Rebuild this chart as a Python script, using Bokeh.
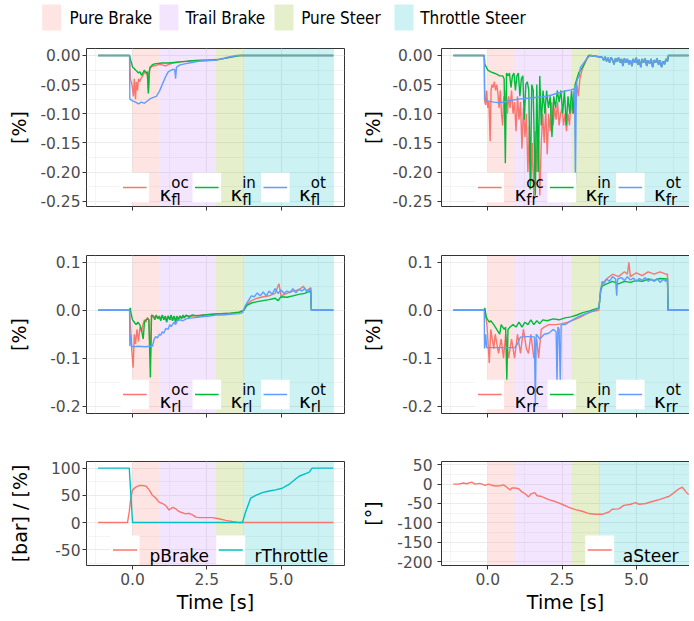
from bokeh.plotting import figure
from bokeh.models import Range1d, FixedTicker, PrintfTickFormatter, Label, LinearAxis, ColumnDataSource
from bokeh.layouts import column, row
from bokeh.embed import file_html
from bokeh.resources import INLINE

# ---------------- data ----------------
phase_names = ["Pure Brake", "Trail Brake", "Pure Steer", "Throttle Steer"]
phase_start = [0.0, 0.9, 2.81, 3.76]
phase_end = [0.9, 2.81, 3.76, 6.78]
phase_colors = ["#F8766D", "#C77CFF", "#7CAE00", "#00BFC4"]

kappa_colors = ["#F8766D", "#00BA38", "#619CFF"]
kappa_sups = ["oc", "in", "ot"]

x_ticks = [0.0, 2.5, 5.0]
x_minor = [-1.25, 1.25, 3.75, 6.25]

y1_ticks = [0.0, -0.05, -0.10, -0.15, -0.20, -0.25]
y1_minor = [-0.025, -0.075, -0.125, -0.175, -0.225]
y2_ticks = [0.1, 0.0, -0.1, -0.2]
y2_minor = [0.05, -0.05, -0.15]
y3l_ticks = [100, 50, 0, -50]
y3l_minor = [75, 25, -25, -75]
y3r_ticks = [50, 0, -50, -100, -150, -200]
y3r_minor = [25, -25, -75, -125, -175]

# front left slip (t [s], value)
fl_oc = [(-1.16, 0), (-0.1, 0), (-0.07, -0.04), (-0.02, -0.05), (0.03, -0.07), (0.06, -0.04), (0.1, -0.075),
         (0.13, -0.045), (0.17, -0.06), (0.2, -0.04), (0.24, -0.045), (0.28, -0.04), (0.34, -0.035), (0.4, -0.03),
         (0.45, -0.028), (0.5, -0.035), (0.54, -0.06), (0.58, -0.02), (0.62, -0.02), (0.7, -0.018), (0.8, -0.017),
         (0.9, -0.015), (1.0, -0.016), (1.12, -0.018), (1.23, -0.015), (1.35, -0.013), (1.46, -0.012), (1.6, -0.011),
         (1.8, -0.01), (2.0, -0.009), (2.5, -0.008), (2.8, -0.007), (3.1, -0.005), (3.5, -0.001), (3.6, 0), (6.76, 0)]
fl_in = [(-1.16, 0), (-0.1, 0), (-0.08, -0.005), (-0.04, -0.012), (0.0, -0.02), (0.05, -0.022), (0.1, -0.025),
         (0.15, -0.027), (0.2, -0.03), (0.25, -0.028), (0.3, -0.034), (0.35, -0.03), (0.4, -0.025), (0.45, -0.03),
         (0.5, -0.028), (0.53, -0.065), (0.56, -0.028), (0.6, -0.02), (0.65, -0.017), (0.7, -0.015), (0.8, -0.014),
         (1.0, -0.013), (1.2, -0.013), (1.4, -0.012), (1.6, -0.011), (1.8, -0.01), (2.0, -0.009), (2.4, -0.008),
         (2.8, -0.008), (3.1, -0.005), (3.5, -0.001), (3.6, 0), (6.76, 0)]
fl_ot = [(-1.16, 0), (-0.1, 0), (-0.09, -0.075), (0.0, -0.078), (0.1, -0.08), (0.2, -0.083), (0.3, -0.08),
         (0.4, -0.082), (0.5, -0.078), (0.6, -0.074), (0.7, -0.072), (0.8, -0.07), (0.9, -0.062), (1.0, -0.05),
         (1.1, -0.038), (1.2, -0.028), (1.35, -0.024), (1.42, -0.024), (1.45, -0.04), (1.48, -0.02), (1.6, -0.016),
         (1.8, -0.014), (2.0, -0.012), (2.2, -0.01), (2.5, -0.009), (2.8, -0.008), (3.0, -0.006), (3.2, -0.003),
         (3.5, 0), (6.76, 0)]

# front right slip
fr_oc_head = [(-1.16, 0), (-0.12, 0), (-0.1, -0.08), (-0.07, -0.085), (-0.04, -0.06), (0.0, -0.09), (0.04, -0.08),
              (0.08, -0.147), (0.11, -0.06), (0.14, -0.05), (0.18, -0.055), (0.22, -0.045), (0.26, -0.06),
              (0.3, -0.05), (0.34, -0.065), (0.38, -0.09), (0.42, -0.06), (0.46, -0.1), (0.5, -0.12), (0.54, -0.07),
              (0.58, -0.09), (0.62, -0.06), (0.66, -0.1), (0.7, -0.07), (0.75, -0.09), (0.8, -0.06), (0.85, -0.1),
              (0.9, -0.08), (0.95, -0.13), (1.0, -0.07), (1.05, -0.11), (1.1, -0.08), (1.15, -0.16), (1.2, -0.09),
              (1.25, -0.14), (1.3, -0.1), (1.35, -0.2), (1.4, -0.12), (1.45, -0.22), (1.5, -0.15), (1.55, -0.245),
              (1.6, -0.13), (1.65, -0.2), (1.7, -0.12), (1.75, -0.24), (1.8, -0.15), (1.85, -0.1), (1.9, -0.15),
              (1.95, -0.09), (2.0, -0.17), (2.05, -0.1), (2.1, -0.13), (2.15, -0.08), (2.2, -0.12), (2.25, -0.09),
              (2.3, -0.11), (2.35, -0.08), (2.4, -0.12), (2.45, -0.1), (2.5, -0.09), (2.55, -0.12), (2.6, -0.1),
              (2.65, -0.13), (2.7, -0.1), (2.75, -0.12), (2.8, -0.08), (2.85, -0.1), (2.9, -0.06), (2.95, -0.09),
              (3.0, -0.05), (3.05, -0.07), (3.1, -0.04), (3.15, -0.03), (3.2, -0.02), (3.3, -0.01), (3.4, 0.0),
              (3.46, 0.0)]
fr_in_head = [(-1.16, 0), (-0.12, 0), (-0.1, -0.015), (-0.05, -0.02), (0.0, -0.025), (0.1, -0.028), (0.2, -0.03),
              (0.3, -0.032), (0.4, -0.035), (0.5, -0.035), (0.55, -0.04), (0.59, -0.185), (0.63, -0.03),
              (0.68, -0.035), (0.73, -0.03), (0.78, -0.055), (0.83, -0.035), (0.88, -0.03), (0.93, -0.06),
              (0.98, -0.035), (1.03, -0.03), (1.08, -0.07), (1.13, -0.04), (1.18, -0.035), (1.23, -0.11),
              (1.28, -0.05), (1.33, -0.045), (1.38, -0.06), (1.43, -0.23), (1.48, -0.05), (1.53, -0.06), (1.6, -0.24),
              (1.65, -0.05), (1.7, -0.2), (1.75, -0.035), (1.8, -0.12), (1.86, -0.06), (1.92, -0.1), (1.98, -0.06),
              (2.04, -0.09), (2.1, -0.07), (2.16, -0.14), (2.22, -0.07), (2.28, -0.09), (2.34, -0.06), (2.4, -0.08),
              (2.46, -0.06), (2.52, -0.1), (2.58, -0.06), (2.64, -0.12), (2.7, -0.07), (2.76, -0.1), (2.82, -0.06),
              (2.88, -0.1), (2.94, -0.05), (3.0, -0.04), (3.06, -0.03), (3.12, -0.025), (3.2, -0.02), (3.3, -0.008),
              (3.4, 0.0), (3.46, 0.0)]
fr_ot_head = [(-1.16, 0), (-0.12, 0), (-0.11, -0.075), (0.0, -0.078), (0.2, -0.08), (0.4, -0.081), (0.6, -0.079),
              (0.8, -0.077), (1.0, -0.075), (1.2, -0.074), (1.4, -0.073), (1.6, -0.072), (1.8, -0.071), (2.0, -0.07),
              (2.2, -0.067), (2.4, -0.064), (2.6, -0.061), (2.8, -0.059), (2.92, -0.057), (2.95, -0.22),
              (2.98, -0.05), (3.02, -0.04), (3.08, -0.035), (3.12, -0.02), (3.2, -0.015), (3.3, -0.008),
              (3.4, -0.002), (3.46, 0.0)]
fr_tail = [(3.85, -0.003), (3.9, -0.008), (3.95, -0.002), (4.0, -0.01), (4.05, -0.004), (4.1, -0.012),
           (4.15, -0.003), (4.2, -0.008), (4.25, -0.015), (4.3, -0.005), (4.35, -0.01), (4.4, -0.004),
           (4.45, -0.012), (4.5, -0.006), (4.55, -0.018), (4.6, -0.005), (4.65, -0.012), (4.7, -0.006),
           (4.75, -0.015), (4.8, -0.008), (4.85, -0.018), (4.9, -0.006), (4.95, -0.012), (5.0, -0.004),
           (5.05, -0.016), (5.1, -0.007), (5.15, -0.02), (5.2, -0.006), (5.25, -0.012), (5.3, -0.005),
           (5.35, -0.018), (5.4, -0.008), (5.45, -0.014), (5.5, -0.006), (5.55, -0.02), (5.6, -0.008),
           (5.65, -0.012), (5.7, -0.005), (5.75, -0.016), (5.8, -0.008), (5.85, -0.02), (5.9, -0.01),
           (5.95, -0.015), (6.0, -0.006), (6.05, -0.01), (6.08, 0.0), (6.76, 0.0)]
fr_oc = fr_oc_head + fr_tail
fr_in = fr_in_head + fr_tail
fr_ot = fr_ot_head + fr_tail

# rear left slip
rl_oc = [(-1.16, 0), (-0.1, 0), (-0.07, -0.03), (-0.03, -0.08), (0.02, -0.12), (0.06, -0.05), (0.1, -0.07),
         (0.15, -0.04), (0.2, -0.065), (0.25, -0.035), (0.3, -0.045), (0.35, -0.03), (0.4, -0.02), (0.45, -0.025),
         (0.5, -0.015), (0.55, -0.02), (0.6, -0.1), (0.64, -0.01), (0.7, -0.015), (0.8, -0.012), (0.9, -0.018),
         (1.0, -0.012), (1.1, -0.02), (1.2, -0.012), (1.3, -0.02), (1.4, -0.013), (1.5, -0.022), (1.6, -0.012),
         (1.7, -0.016), (1.8, -0.011), (2.0, -0.012), (2.2, -0.011), (2.4, -0.01), (2.6, -0.009), (2.8, -0.008),
         (3.0, -0.007), (3.3, -0.006), (3.6, -0.004), (3.75, 0.0), (3.85, 0.012), (4.0, 0.02), (4.2, 0.025),
         (4.4, 0.028), (4.6, 0.03), (4.8, 0.035), (4.93, 0.055), (5.0, 0.03), (5.2, 0.035), (5.4, 0.04),
         (5.6, 0.042), (5.75, 0.05), (5.85, 0.04), (6.0, 0.047), (6.02, 0.0), (6.76, 0.0)]
rl_in = [(-1.16, 0), (-0.1, 0), (-0.08, 0.005), (-0.04, -0.01), (0.0, -0.02), (0.06, -0.025), (0.12, -0.03),
         (0.18, -0.025), (0.24, -0.03), (0.3, -0.04), (0.36, -0.06), (0.4, -0.025), (0.45, -0.02), (0.5, -0.018),
         (0.55, -0.02), (0.6, -0.14), (0.64, -0.01), (0.7, -0.012), (0.75, -0.02), (0.8, -0.01), (0.85, -0.018),
         (0.9, -0.012), (0.95, -0.022), (1.0, -0.01), (1.05, -0.02), (1.1, -0.012), (1.15, -0.025), (1.2, -0.012),
         (1.25, -0.02), (1.3, -0.01), (1.35, -0.022), (1.4, -0.012), (1.45, -0.025), (1.5, -0.012), (1.55, -0.02),
         (1.6, -0.012), (1.65, -0.018), (1.7, -0.01), (1.75, -0.016), (1.8, -0.01), (1.9, -0.015), (2.0, -0.01),
         (2.2, -0.012), (2.4, -0.01), (2.6, -0.009), (2.8, -0.008), (3.0, -0.007), (3.3, -0.006), (3.6, -0.004),
         (3.75, 0.0), (3.85, 0.01), (4.0, 0.015), (4.2, 0.018), (4.4, 0.02), (4.6, 0.022), (4.8, 0.025),
         (4.9, 0.02), (5.0, 0.028), (5.2, 0.027), (5.4, 0.03), (5.6, 0.033), (5.8, 0.035), (5.9, 0.038),
         (6.0, 0.04), (6.02, 0.0), (6.76, 0.0)]
rl_ot = [(-1.16, 0), (-0.1, 0), (-0.09, -0.075), (-0.06, -0.05), (-0.03, -0.075), (0.0, -0.076), (0.2, -0.075),
         (0.4, -0.076), (0.6, -0.075), (0.67, -0.075), (0.73, -0.06), (0.78, -0.055), (0.84, -0.058), (0.9, -0.05),
         (0.95, -0.052), (1.0, -0.045), (1.05, -0.048), (1.12, -0.038), (1.2, -0.04), (1.25, -0.03), (1.3, -0.034),
         (1.4, -0.025), (1.45, -0.03), (1.5, -0.022), (1.6, -0.02), (1.7, -0.022), (1.8, -0.018), (2.0, -0.016),
         (2.2, -0.015), (2.4, -0.013), (2.6, -0.012), (2.8, -0.01), (3.0, -0.01), (3.2, -0.009), (3.4, -0.008),
         (3.6, -0.007), (3.7, -0.005), (3.8, 0.01), (3.9, 0.02), (4.0, 0.03), (4.1, 0.028), (4.2, 0.036),
         (4.3, 0.03), (4.4, 0.038), (4.5, 0.03), (4.6, 0.04), (4.7, 0.033), (4.8, 0.045), (4.9, 0.035),
         (5.0, 0.042), (5.1, 0.035), (5.2, 0.04), (5.3, 0.037), (5.4, 0.045), (5.5, 0.036), (5.6, 0.044),
         (5.7, 0.04), (5.8, 0.045), (5.9, 0.038), (6.0, 0.045), (6.02, 0.0), (6.76, 0.0)]

# rear right slip
rr_oc = [(-1.16, 0), (-0.12, 0), (-0.1, 0.0), (-0.03, -0.03), (0.05, -0.11), (0.1, -0.04), (0.2, -0.08),
         (0.25, -0.05), (0.36, -0.09), (0.45, -0.06), (0.53, -0.1), (0.6, -0.05), (0.7, -0.1), (0.8, -0.06),
         (0.9, -0.1), (1.0, -0.05), (1.1, -0.09), (1.2, -0.04), (1.3, -0.08), (1.37, -0.09), (1.45, -0.05),
         (1.55, -0.1), (1.65, -0.06), (1.71, -0.1), (1.8, -0.04), (1.9, -0.035), (2.05, -0.03), (2.3, -0.03),
         (2.5, -0.028), (2.7, -0.025), (2.9, -0.02), (3.1, -0.015), (3.3, -0.008), (3.5, -0.003), (3.74, 0.0),
         (3.8, 0.045), (3.85, 0.055), (4.0, 0.065), (4.2, 0.075), (4.4, 0.07), (4.6, 0.08), (4.7, 0.075),
         (4.75, 0.1), (4.8, 0.07), (5.0, 0.078), (5.2, 0.072), (5.4, 0.08), (5.6, 0.075), (5.8, 0.08),
         (6.0, 0.075), (6.05, 0.075), (6.07, 0.0), (6.76, 0.0)]
rr_in = [(-1.16, 0), (-0.12, 0), (-0.1, 0.005), (-0.05, -0.015), (0.0, -0.02), (0.05, -0.025), (0.1, -0.022),
         (0.2, -0.03), (0.3, -0.04), (0.4, -0.05), (0.45, -0.03), (0.55, -0.04), (0.6, -0.035), (0.64, -0.145),
         (0.68, -0.04), (0.75, -0.035), (0.85, -0.03), (0.95, -0.035), (1.05, -0.025), (1.15, -0.035),
         (1.25, -0.025), (1.35, -0.03), (1.45, -0.02), (1.55, -0.03), (1.65, -0.022), (1.75, -0.028),
         (1.85, -0.02), (2.0, -0.022), (2.2, -0.018), (2.4, -0.02), (2.6, -0.016), (2.8, -0.014), (3.0, -0.01),
         (3.2, -0.005), (3.4, -0.002), (3.6, 0.002), (3.74, 0.005), (3.8, 0.04), (3.85, 0.05), (4.0, 0.055),
         (4.2, 0.06), (4.4, 0.055), (4.6, 0.06), (4.8, 0.058), (5.0, 0.062), (5.2, 0.06), (5.4, 0.065),
         (5.6, 0.062), (5.8, 0.066), (6.0, 0.065), (6.05, 0.065), (6.07, 0.0), (6.76, 0.0)]
rr_ot = [(-1.16, 0), (-0.12, 0), (-0.11, -0.08), (-0.07, -0.05), (-0.04, -0.078), (0.2, -0.078), (0.5, -0.078),
         (0.8, -0.078), (0.92, -0.078), (1.0, -0.07), (1.1, -0.056), (1.3, -0.055), (1.5, -0.055), (1.57, -0.056),
         (1.6, -0.2), (1.63, -0.05), (1.75, -0.06), (1.9, -0.05), (2.05, -0.048), (2.2, -0.04), (2.3, -0.045),
         (2.33, -0.15), (2.36, -0.035), (2.4, -0.04), (2.44, -0.15), (2.47, -0.03), (2.6, -0.03), (2.8, -0.022),
         (3.0, -0.015), (3.2, -0.01), (3.4, -0.005), (3.63, 0.0), (3.74, 0.005), (3.8, 0.04), (3.85, 0.06),
         (3.9, 0.055), (4.0, 0.065), (4.1, 0.06), (4.2, 0.07), (4.3, 0.065), (4.34, 0.03), (4.37, 0.065),
         (4.5, 0.068), (4.6, 0.062), (4.7, 0.07), (4.8, 0.063), (4.9, 0.067), (5.0, 0.06), (5.1, 0.066),
         (5.2, 0.062), (5.3, 0.068), (5.4, 0.06), (5.5, 0.065), (5.6, 0.06), (5.7, 0.066), (5.8, 0.058),
         (5.9, 0.064), (6.0, 0.06), (6.05, 0.065), (6.07, 0.0), (6.76, 0.0)]

# driver inputs
p_brake = [(-1.16, 0), (-0.17, 0), (-0.11, 20), (-0.06, 45), (0.0, 60), (0.11, 65), (0.22, 68), (0.34, 68),
           (0.45, 67), (0.56, 60), (0.67, 50), (0.78, 45), (0.9, 37), (1.01, 35), (1.12, 31), (1.23, 23),
           (1.35, 28), (1.46, 25), (1.57, 20), (1.68, 18), (1.79, 16), (1.9, 17), (2.02, 14), (2.13, 10),
           (2.24, 9), (2.69, 9), (2.8, 8), (2.91, 7), (3.14, 4), (3.36, 2), (3.59, 0), (6.76, 0)]
r_throttle = [(-1.16, 100), (-0.11, 100), (0.0, 0), (3.7, 0), (3.81, 20), (3.98, 45), (4.15, 50), (4.37, 55),
              (4.6, 58), (4.82, 60), (5.04, 63), (5.16, 67), (5.27, 70), (5.38, 75), (5.49, 80), (5.61, 85),
              (5.83, 90), (5.94, 92), (6.05, 100), (6.76, 100)]
a_steer = [(-1.16, 0), (-0.99, 0), (-0.82, 3), (-0.71, 1), (-0.54, 5), (-0.43, 0), (-0.26, 2), (-0.09, -3),
           (0.02, 0), (0.14, -3), (0.25, -5), (0.42, -4), (0.53, -2), (0.64, -8), (0.75, -15), (0.81, -10),
           (0.92, -10), (1.04, -12), (1.15, -20), (1.26, -25), (1.37, -33), (1.46, -25), (1.58, -22), (1.66, -30),
           (1.82, -32), (2.05, -40), (2.27, -45), (2.5, -52), (2.73, -60), (2.95, -66), (3.18, -70), (3.4, -76),
           (3.63, -78), (3.85, -78), (4.08, -72), (4.19, -65), (4.41, -64), (4.58, -55), (4.81, -52), (4.98, -48),
           (5.09, -52), (5.32, -50), (5.54, -45), (5.77, -40), (6.0, -34), (6.1, -32), (6.27, -22), (6.44, -12),
           (6.55, -8), (6.67, -20), (6.76, -27)]

# ---------------- styling ----------------
FONT = "DejaVu Sans"
GRID = "#EBEBEB"
BORDER = "#333333"
TICKTXT = "#4D4D4D"


def xy(pairs):
    return [a for a, _ in pairs], [b for _, b in pairs]


def make_panel(xr, fw, mbl, mbr, yr, fh, mbt, mbb, yticks, yminor, yfmt, ytitle,
               lab_std, title_std, bottom_row, right_col):
    p = figure(frame_width=fw, frame_height=fh, x_range=Range1d(*xr), y_range=Range1d(*yr),
               min_border_left=mbl, min_border_right=mbr, min_border_top=mbt, min_border_bottom=mbb,
               output_backend="svg", toolbar_location=None)
    p.background_fill_color = "white"
    p.border_fill_color = "white"
    xt = FixedTicker(ticks=x_ticks, minor_ticks=x_minor)
    yt = FixedTicker(ticks=yticks, minor_ticks=yminor)
    xa = p.xaxis[0]
    ya = p.yaxis[0]
    xa.ticker = xt
    ya.ticker = yt
    p.xgrid[0].ticker = xt
    p.ygrid[0].ticker = yt
    for ax in (xa, ya):
        ax.axis_line_color = BORDER if right_col else None
        ax.axis_line_width = 1
        ax.major_tick_line_color = BORDER
        ax.major_tick_line_width = 1
        ax.major_tick_out = 4
        ax.major_tick_in = 0
        ax.minor_tick_line_color = None
        ax.major_label_text_font = FONT
        ax.major_label_text_font_size = "15.5px"
        ax.major_label_text_color = TICKTXT
        ax.axis_label_text_font = FONT
        ax.axis_label_text_font_size = "19px"
        ax.axis_label_text_font_style = "normal"
        ax.axis_label_text_color = "black"
    ya.formatter = PrintfTickFormatter(format=yfmt)
    ya.axis_label = ytitle
    ya.major_label_standoff = lab_std
    ya.axis_label_standoff = title_std
    xa.formatter = PrintfTickFormatter(format="%.1f")
    if bottom_row:
        xa.axis_label = "Time [s]"
        xa.major_label_standoff = 3
        xa.axis_label_standoff = 3
    else:
        xa.major_label_text_color = None
        xa.major_label_standoff = 0
    for g in (p.xgrid[0], p.ygrid[0]):
        g.grid_line_color = GRID
        g.grid_line_width = 1.1
        g.minor_grid_line_color = GRID
        g.minor_grid_line_width = 0.55
    if right_col:
        p.outline_line_color = None
        top = LinearAxis(ticker=FixedTicker(ticks=[]), axis_line_color=BORDER, axis_line_width=1,
                         major_tick_line_color=None, minor_tick_line_color=None,
                         major_label_text_color=None)
        p.add_layout(top, "above")
    else:
        p.outline_line_color = BORDER
        p.outline_line_width = 1
    src = ColumnDataSource(dict(left=phase_start, right=phase_end, color=phase_colors))
    p.quad(left="left", right="right", top=yr[1], bottom=yr[0], fill_color="color",
           fill_alpha=0.2, line_color=None, source=src)
    return p


def fx(p, px):
    r = p.x_range
    return r.start + px * (r.end - r.start) / p.frame_width


def fy(p, py):
    r = p.y_range
    return r.start + py * (r.end - r.start) / p.frame_height


def key(p, x0, w, y0, y1, color):
    p.quad(left=fx(p, x0), right=fx(p, x0 + w), bottom=fy(p, y0), top=fy(p, y1),
           fill_color="white", line_color=None)
    ym = fy(p, (y0 + y1) / 2.0)
    p.segment(x0=fx(p, x0 + 2.5), x1=fx(p, x0 + w - 2.5), y0=ym, y1=ym, line_color=color, line_width=1.6)


def kappa_legend(p, sub):
    key_x = [34, 106, 174.5]
    lab_x = [73, 144, 212.5]
    for kx, lx, c, sup in zip(key_x, lab_x, kappa_colors, kappa_sups):
        key(p, kx, 28.6, 4.3, 33.7, c)
        p.add_layout(Label(x=fx(p, lx), y=fy(p, 12.7), text="κ", text_font=FONT, text_font_size="20px",
                           text_baseline="alphabetic", text_align="left", text_color="black"))
        p.add_layout(Label(x=fx(p, lx + 11.7), y=fy(p, 23.7), text=sup, text_font=FONT, text_font_size="15px",
                           text_baseline="alphabetic", text_align="left", text_color="black"))
        p.add_layout(Label(x=fx(p, lx + 11.7), y=fy(p, 7.0), text=sub, text_font=FONT, text_font_size="15px",
                           text_baseline="alphabetic", text_align="left", text_color="black"))


def plain_legend(p, key_x, lab_x, labels, colors):
    for kx, lx, lab, c in zip(key_x, lab_x, labels, colors):
        key(p, kx, 29, 1.0, 30.0, c)
        p.add_layout(Label(x=fx(p, lx), y=fy(p, 10.0), text=lab, text_font=FONT, text_font_size="17px",
                           text_baseline="alphabetic", text_align="left", text_color="black"))


XL = (-1.55, 7.137)
XR = (-1.559, 6.791)
LW, LBL, LBR = 258, 86, 15
RW, RBL, RBR = 248, 78, 0

Y1 = (-0.2591, 0.012)
Y2 = (-0.2152, 0.114)
Y3L = (-78.8, 112.1)
Y3R = (-210.3, 58.5)

p_fl = make_panel(XL, LW, LBL, LBR, Y1, 158, 9, 25, y1_ticks, y1_minor, "%.2f", "[%]", 2, 7, False, False)
p_fr = make_panel(XR, RW, RBL, RBR, Y1, 158, 9, 25, y1_ticks, y1_minor, "%.2f", "[%]", 5, 5, False, True)
p_rl = make_panel(XL, LW, LBL, LBR, Y2, 158, 24, 24, y2_ticks, y2_minor, "%.1f", "[%]", 2, 17, False, False)
p_rr = make_panel(XR, RW, RBL, RBR, Y2, 158, 24, 24, y2_ticks, y2_minor, "%.1f", "[%]", 5, 15, False, True)
p_in = make_panel(XL, LW, LBL, LBR, Y3L, 104, 24, 50, y3l_ticks, y3l_minor, "%d", "[bar] / [%]", 2, 17, True, False)
p_st = make_panel(XR, RW, RBL, RBR, Y3R, 104, 24, 50, y3r_ticks, y3r_minor, "%d", "[°]", 5, 10, True, True)

LW_LINE = 1.4
for p, series, sub in ((p_fl, (fl_oc, fl_in, fl_ot), "fl"), (p_fr, (fr_oc, fr_in, fr_ot), "fr"),
                       (p_rl, (rl_oc, rl_in, rl_ot), "rl"), (p_rr, (rr_oc, rr_in, rr_ot), "rr")):
    for s, c in zip(series, kappa_colors):
        t, v = xy(s)
        p.line(t, v, line_color=c, line_width=LW_LINE)
    kappa_legend(p, sub)

t, v = xy(p_brake)
p_in.line(t, v, line_color="#F8766D", line_width=LW_LINE)
t, v = xy(r_throttle)
p_in.line(t, v, line_color="#00BFC4", line_width=LW_LINE)
plain_legend(p_in, [24, 129.7], [63, 168], ["pBrake", "rThrottle"], ["#F8766D", "#00BFC4"])

t, v = xy(a_steer)
p_st.line(t, v, line_color="#F8766D", line_width=LW_LINE)
plain_legend(p_st, [143.7], [181.3], ["aSteer"], ["#F8766D"])

# ---------------- top legend ----------------
LEG_W = LBL + LW + LBR + RBL + RW + RBR
leg = figure(width=LEG_W, height=39, x_range=Range1d(0, LEG_W), y_range=Range1d(0, 39),
             x_axis_type=None, y_axis_type=None, output_backend="svg", toolbar_location=None,
             min_border=0)
leg.grid.visible = False
leg.outline_line_color = None
leg.background_fill_color = "white"
leg.border_fill_color = "white"
leg_key_x = [41.7, 159, 274, 394]
leg_lab_x = [69, 185, 300.7, 419.7]
lsrc = ColumnDataSource(dict(left=leg_key_x, right=[k + 19 for k in leg_key_x], color=phase_colors))
leg.quad(left="left", right="right", top=35, bottom=9, fill_color="color", fill_alpha=0.2,
         line_color=None, source=lsrc)
for lx, name in zip(leg_lab_x, phase_names):
    leg.add_layout(Label(x=lx, y=21.5, text=name, text_font="'DejaVu Sans Condensed', 'DejaVu Sans'",
                         text_font_size="17px", text_baseline="middle", text_align="left",
                         text_color="black"))

layout = column(leg, row(p_fl, p_fr), row(p_rl, p_rr), row(p_in, p_st))

open("out.html", "w").write(file_html(layout, INLINE))
